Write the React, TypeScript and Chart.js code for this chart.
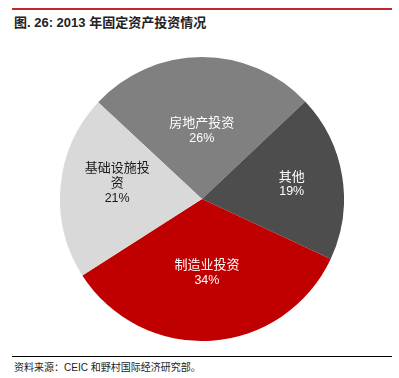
import React, { useEffect, useRef } from "react";
import { Chart, registerables } from "chart.js";

Chart.register(...registerables);

const categories = ["房地产投资", "其他", "制造业投资", "基础设施投资"];
const labelLines = [["房地产投资"], ["其他"], ["制造业投资"], ["基础设施投", "资"]];
const values = [26, 19, 34, 21];
const colors = ["#808080", "#4d4d4d", "#c00000", "#d9d9d9"];
const textColors = ["#ffffff", "#ffffff", "#ffffff", "#1a1a1a"];
const labelRadius = [0.48, 0.64, 0.52, 0.6];
const labelDy = [0, 0, 0, -8];

const FONT = '"Liberation Sans", "Noto Sans CJK SC", sans-serif';

const labelPlugin = {
  id: "sliceLabels",
  afterDatasetsDraw(chart: any) {
    const ctx = chart.ctx;
    const meta = chart.getDatasetMeta(0);
    const total = values.reduce((a, b) => a + b, 0);
    meta.data.forEach((arc: any, i: number) => {
      const p = arc.getProps(["x", "y", "startAngle", "endAngle", "outerRadius"], true);
      const mid = (p.startAngle + p.endAngle) / 2;
      const r = p.outerRadius * labelRadius[i];
      const cx = p.x + Math.cos(mid) * r;
      const cy = p.y + Math.sin(mid) * r + labelDy[i];
      const lines = [...labelLines[i], Math.round((values[i] / total) * 100) + "%"];
      const lh = 15;
      ctx.save();
      ctx.fillStyle = textColors[i];
      ctx.textAlign = "center";
      ctx.textBaseline = "middle";
      const y0 = cy - ((lines.length - 1) * lh) / 2;
      lines.forEach((t, k) => {
        const isPct = k === lines.length - 1;
        ctx.font = isPct ? `12.5px ${FONT}` : `13px ${FONT}`;
        ctx.fillText(t, cx, y0 + k * lh);
      });
      ctx.restore();
    });
  },
};

export default function App() {
  const ref = useRef<HTMLCanvasElement | null>(null);
  useEffect(() => {
    if (!ref.current) return;
    const chart = new Chart(ref.current, {
      type: "pie",
      data: {
        labels: categories,
        datasets: [
          {
            data: values,
            backgroundColor: colors,
            borderWidth: 0,
          },
        ],
      },
      options: {
        animation: false,
        responsive: false,
        maintainAspectRatio: false,
        rotation: -47,
        layout: { padding: 0 },
        plugins: {
          legend: { display: false },
          tooltip: { enabled: false },
        },
      },
      plugins: [labelPlugin],
    });
    return () => chart.destroy();
  }, []);

  return (
    <div
      style={{
        position: "fixed",
        left: 0,
        top: 0,
        width: 399,
        height: 378,
        background: "#ffffff",
        fontFamily: FONT,
      }}
    >
      <div style={{ position: "absolute", left: 12, top: 8, width: 380, height: 2, background: "#c0282c" }} />
      <div
        style={{
          position: "absolute",
          left: 14,
          top: 15,
          fontSize: 13,
          fontWeight: "bold",
          color: "#222",
          whiteSpace: "nowrap",
          lineHeight: "16px",
        }}
      >
        图. 26: 2013 年固定资产投资情况
      </div>
      <canvas
        ref={ref}
        width={284}
        height={284}
        style={{ position: "absolute", left: 60, top: 57, width: 284, height: 284 }}
      />
      <div style={{ position: "absolute", left: 12, top: 356, width: 380, height: 1, background: "#000" }} />
      <div
        style={{
          position: "absolute",
          left: 14,
          top: 361,
          fontSize: 10,
          color: "#222",
          whiteSpace: "nowrap",
          lineHeight: "14px",
        }}
      >
        资料来源：CEIC 和野村国际经济研究部。
      </div>
    </div>
  );
}
